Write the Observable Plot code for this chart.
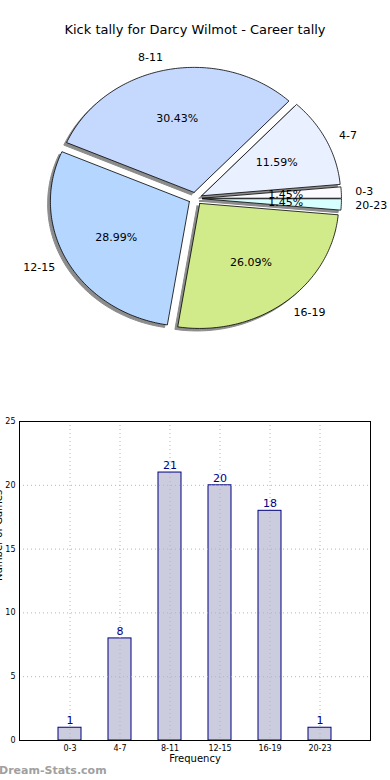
<!DOCTYPE html>
<html><head><meta charset="utf-8">
<script src="https://cdn.jsdelivr.net/npm/d3@7"></script>
<script src="https://cdn.jsdelivr.net/npm/@observablehq/plot@0.6"></script>
<style>
body{margin:0;background:#fff;font-family:"DejaVu Sans",sans-serif}
#wrap{position:relative;width:390px;height:780px;overflow:hidden;background:#fff}
#title{position:absolute;left:0;top:22px;width:390px;text-align:center;font-size:13px;line-height:16px;color:#000;z-index:2}
#pie{position:absolute;left:0;top:0px}
#bar{position:absolute;left:0;top:400px}
#wm{position:absolute;left:-1px;top:764px;font-size:11px;font-weight:bold;color:#a0a0a0;line-height:14px}
</style></head><body>
<div id="wrap">
  <div id="pie"></div>
  <div id="bar"></div>
  <div id="title"></div>
  <div id="wm">Dream-Stats.com</div>
</div>
<script>
const chartTitle = "Kick tally for Darcy Wilmot - Career tally";
const categories = ["0-3","4-7","8-11","12-15","16-19","20-23"];
const counts = [1, 8, 21, 20, 18, 1];
const pieColors = ["#fbfbff","#e9f0ff","#c5d9ff","#b4d6ff","#d1eb8b","#d8ffff"];
const yTicks = [0, 5, 10, 15, 20, 25];
const xLabel = "Frequency";
const yLabel = "Number of Games";
const watermark = "Dream-Stats.com";

document.getElementById("title").textContent = chartTitle;
document.getElementById("wm").textContent = watermark;

// ---- pie geometry (data units, unit radius) ----
const total = d3.sum(counts);
const explode = 0.05;
const slices = [], shadows = [], outer = [], pcts = [];
let a0 = 0;
categories.forEach((c, i) => {
  const a1 = a0 + 2 * Math.PI * counts[i] / total;
  const mid = (a0 + a1) / 2;
  const cx = explode * Math.cos(mid), cy = explode * Math.sin(mid);
  const n = Math.max(2, Math.ceil((a1 - a0) * 180 / Math.PI));
  const pts = [[cx, cy]];
  for (let k = 0; k <= n; k++) {
    const a = a0 + (a1 - a0) * k / n;
    pts.push([cx + Math.cos(a), cy + Math.sin(a)]);
  }
  pts.push([cx, cy]);
  pts.forEach(([x, y]) => {
    slices.push({key: c, x, y, color: pieColors[i]});
    shadows.push({key: c, x: x - 0.02, y: y - 0.02});
  });
  outer.push({text: c, x: cx + 1.1 * Math.cos(mid), y: cy + 1.1 * Math.sin(mid)});
  pcts.push({text: (100 * counts[i] / total).toFixed(2) + "%", x: cx + 0.6 * Math.cos(mid), y: cy + 0.6 * Math.sin(mid)});
  a0 = a1;
});

const rx = 139, ry = 125, pcx = 195, pcy = 198, pw = 390, ph = 400;
const pie = Plot.plot({
  width: pw, height: ph, margin: 0,
  style: {fontFamily: "DejaVu Sans", fontSize: "11px", background: "transparent"},
  x: {domain: [-pcx / rx, (pw - pcx) / rx], axis: null},
  y: {domain: [-(ph - pcy) / ry, pcy / ry], axis: null},
  color: {type: "identity"},
  marks: [
    Plot.line(shadows, {x: "x", y: "y", z: "key", fill: "#8c8c8c", stroke: "#8c8c8c", strokeWidth: 1, curve: "linear"}),
    Plot.line(slices, {x: "x", y: "y", z: "key", fill: "color", stroke: "#000", strokeWidth: 0.8, strokeLinejoin: "round", curve: "linear"}),
    Plot.text(outer.filter(d => d.x >= 0), {x: "x", y: "y", text: "text", textAnchor: "start", fontSize: 11, fill: "#000"}),
    Plot.text(outer.filter(d => d.x < 0), {x: "x", y: "y", text: "text", textAnchor: "end", fontSize: 11, fill: "#000"}),
    Plot.text(pcts, {x: "x", y: "y", text: "text", fontSize: 11, fill: "#000"})
  ]
});
document.getElementById("pie").appendChild(pie);

// ---- bar chart ----
const barData = categories.map((c, i) => ({cat: c, count: counts[i]}));
const bar = Plot.plot({
  width: 390, height: 380,
  marginTop: 21, marginBottom: 40, marginLeft: 19, marginRight: 20,
  style: {fontFamily: "DejaVu Sans", fontSize: "8px", background: "transparent"},
  x: {domain: categories, paddingInner: 0.54, paddingOuter: 0.77, align: 0.5, label: null},
  y: {domain: [0, 25], label: null},
  marks: [
    Plot.barY(barData, {x: "cat", y: "count", fill: "#ccccdf", stroke: "#000080", strokeWidth: 1}),
    Plot.gridX({stroke: "#b4b4b4", strokeOpacity: 1, strokeDasharray: "1,3"}),
    Plot.gridY({ticks: yTicks, stroke: "#b4b4b4", strokeOpacity: 1, strokeDasharray: "1,3"}),
    Plot.frame({stroke: "#000", strokeWidth: 1}),
    Plot.text(barData, {x: "cat", y: "count", text: d => String(d.count), dy: -7, fill: "#000080", fontSize: 11}),
    Plot.axisX({tickSize: 0, tickPadding: 5, fontSize: 8, label: null, fill: "#000"}),
    Plot.axisY({ticks: yTicks, tickSize: 0, tickPadding: 4, fontSize: 8, label: null, fill: "#000"}),
    Plot.text([xLabel], {frameAnchor: "bottom", dy: 21, text: d => d, fontSize: 10, fill: "#000"}),
    Plot.text([yLabel], {frameAnchor: "left", dx: -21, rotate: -90, text: d => d, fontSize: 10, fill: "#000"})
  ]
});
document.getElementById("bar").appendChild(bar);
</script>
</body></html>
